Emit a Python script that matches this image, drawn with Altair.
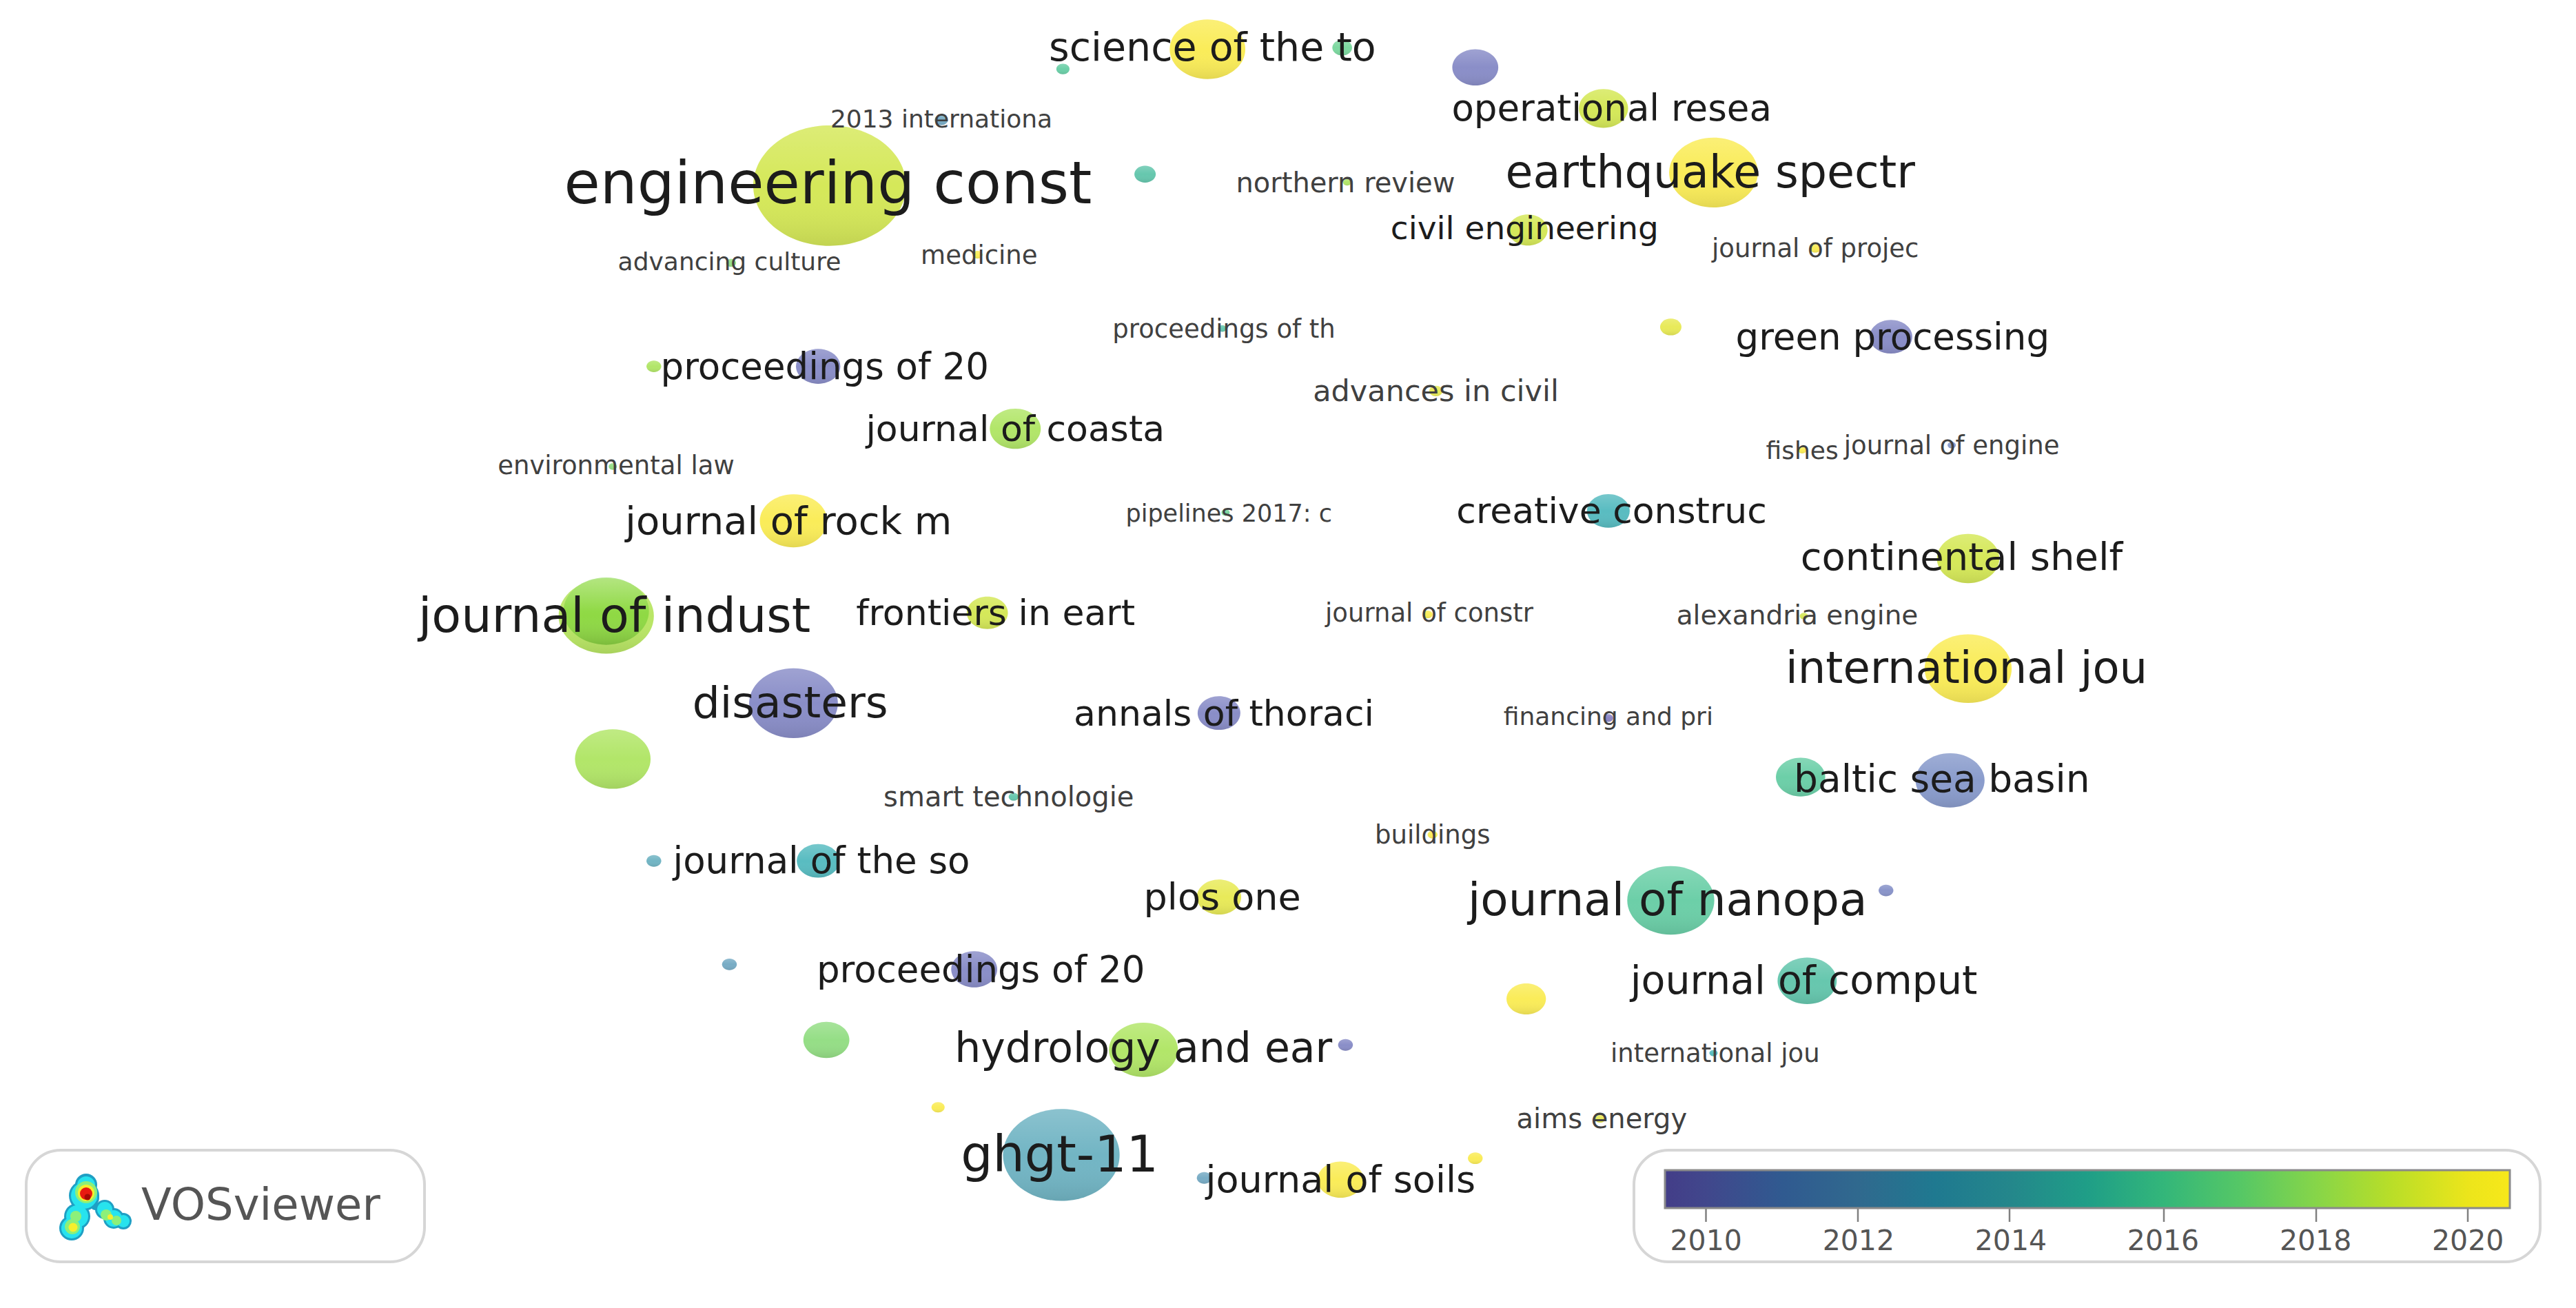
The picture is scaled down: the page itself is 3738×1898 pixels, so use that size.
import altair as alt
import pandas as pd

K = 3738 / 1568

# ---- map items: label, x, y, bubble width, average publication year, label font size
names = ["science of the to", "", "", "", "operational resea", "2013 internationa", "engineering const", "", "northern review",
         "earthquake spectr", "civil engineering", "journal of projec", "advancing culture", "medicine", "",
         "proceedings of th", "green processing", "proceedings of 20", "", "advances in civil", "journal of coasta",
         "fishes", "journal of engine", "environmental law", "journal of rock m", "pipelines 2017: c", "creative construc",
         "continental shelf", "journal of indust", "", "frontiers in eart", "journal of constr", "alexandria engine",
         "international jou", "disasters", "annals of thoraci", "financing and pri", "", "", "baltic sea basin",
         "smart technologie", "buildings", "journal of the so", "", "plos one", "journal of nanopa", "", "",
         "proceedings of 20", "journal of comput", "", "", "hydrology and ear", "", "international jou", "",
         "aims energy", "ghgt-11", "", "", "journal of soils"]
bx = [735, 817, 647, 898, 976, 573, 505, 697, 820, 1043, 930, 1105, 445, 595, 1017, 744, 1151, 498, 398, 874, 618,
      1097, 1188, 373, 483, 746, 979, 1198, 369, 369, 601, 869, 1098, 1198, 483, 742, 979, 373, 1096, 1187, 617, 872, 498,
      398, 742, 1017, 1148, 444, 593, 1100, 929, 503, 696, 819, 1043, 571, 974, 646, 898, 733, 816]
by = [30, 29, 42, 41, 66, 73, 113, 106, 111, 105, 140, 151, 160, 155, 199, 200, 205, 223, 223, 238, 261, 274, 271,
      284, 317, 312, 311, 340, 375, 372, 373, 374, 375, 407, 428, 434, 437, 462, 473, 475, 485, 508, 524, 524, 546, 548,
      542, 587, 590, 597, 608, 633, 639, 636, 641, 674, 681, 703, 705, 717, 718]
bw = [46, 12, 8, 28, 30, 8, 93, 13, 5, 54, 24, 7, 6, 6, 13, 5, 26, 27, 9, 8, 31, 5, 5, 5, 41, 5, 26, 38, 58, 52, 25, 6,
      5, 53, 54, 26, 6, 46, 30, 42, 6, 6, 26, 9, 27, 53, 9, 9, 28, 36, 24, 28, 42, 9, 5, 8, 6, 71, 9, 9, 28]
years = [2020, 2016, 2015.5, 2010.5, 2019, 2013, 2019, 2015, 2018, 2020, 2019, 2020, 2017, 2020, 2019.5, 2015,
         2010.5, 2010.5, 2018, 2019.5, 2018, 2020, 2011.5, 2017, 2020, 2016, 2014, 2019, 2018.2, 2017.6, 2019, 2020, 2019,
         2020, 2010.5, 2010.5, 2010, 2018, 2015.5, 2011.5, 2015, 2020, 2014, 2013.5, 2019.5, 2015.5, 2011, 2013,
         2010.5, 2015, 2020, 2017, 2018, 2010.5, 2014, 2020, 2019.5, 2013.5, 2020, 2013, 2020]
lx = [738, 0, 0, 0, 981, 573, 504, 0, 819, 1041, 928, 1105, 444, 596, 0, 745, 1152, 502, 0, 874, 618, 1097, 1188,
      375, 480, 748, 981, 1194, 374, 0, 606, 870, 1094, 1197, 481, 745, 979, 0, 0, 1182, 614, 872, 500, 0, 744, 1015, 0,
      0, 597, 1098, 0, 0, 696, 0, 1044, 0, 975, 645, 0, 0, 816]
ly = [29, 0, 0, 0, 66, 72, 112, 0, 111, 105, 139, 151, 159, 155, 0, 200, 205, 223, 0, 238, 261, 274, 271, 283, 317,
      312, 311, 339, 375, 0, 373, 373, 374, 407, 428, 434, 436, 0, 0, 474, 485, 508, 524, 0, 546, 548, 0, 0, 590, 597,
      0, 0, 638, 0, 641, 0, 681, 703, 0, 0, 718]
fs = [57, 0, 0, 0, 53, 36, 85, 0, 40, 65, 47, 37, 36, 37, 0, 37, 53, 53, 0, 43, 52, 36, 37, 37, 56, 35, 52, 56, 70,
      0, 52, 37, 39, 64, 63, 52, 36, 0, 0, 55, 40, 37, 53, 0, 54, 66, 0, 0, 53, 57, 0, 0, 60, 0, 37, 0, 40, 73, 0, 0, 54]

# ---- colour key and the (paler, more saturated) map palette
key_years = [2009.46, 2010, 2012, 2014, 2015, 2016, 2017, 2018, 2019, 2020, 2020.55]
key_colors = ["#433d88", "#41478c", "#30698e", "#24878b", "#1f9e87", "#33b67a", "#55c766", "#86d549", "#b9de28",
              "#ece51b", "#f7e81a"]
map_years = [2010, 2011.5, 2013, 2013.5, 2015, 2016, 2017, 2018, 2019, 2020]
map_colors = ["#5045a5", "#4b67b1", "#2f7fa6", "#268ea5", "#14a983", "#37c36d", "#5ccc45", "#88d818", "#bfdc00", "#f8e200"]
tick_years = [2010, 2012, 2014, 2016, 2018, 2020]
tick_x = [2475.5, 2696, 2916, 3140, 3361, 3581]

# ---- frames
frames_x = [38, 2371]
frames_x2 = [616, 3686]
frames_y = [1669, 1669]
frames_y2 = [1831, 1831]

# ---- logo blobs: x, y, diameter per colour
logo_layers = [
    ("#1f9fc4", [125, 122, 131, 112, 104, 152, 165, 179, 138], [1719, 1735, 1738, 1765, 1782, 1755, 1768, 1772, 1750],
     [32, 44, 26, 38, 36, 28, 30, 24, 12]),
    ("#27e3ee", [125, 122, 131, 112, 104, 152, 165, 179], [1720, 1735, 1738, 1765, 1782, 1755, 1768, 1772],
     [26, 38, 20, 32, 30, 22, 24, 18]),
    ("#8cf07a", [125, 110, 105, 154, 169], [1730, 1765, 1780, 1763, 1771], [32, 16, 22, 16, 14]),
    ("#f6ef2c", [125, 106, 160], [1731, 1781, 1766], [24, 13, 8]),
    ("#e81a10", [125], [1732], [18]),
    ("#a80a05", [127], [1737], [9]),
]

items = pd.DataFrame({"name": names, "bx": [v * K for v in bx], "by": [v * K for v in by], "bw": bw, "year": years,
                      "lx": [v * K for v in lx], "ly": [v * K for v in ly], "fs": fs})
labels = items[items["name"] != ""]

xs = alt.Scale(domain=[8, 3730], nice=False, zero=False)
ys = alt.Scale(domain=[1890, 8], nice=False, zero=False)
ELLIPSE = ("M-1.27,0 C-1.27,-0.5523 -0.7014,-1 0,-1 C0.7014,-1 1.27,-0.5523 1.27,0 "
           "C1.27,0.5523 0.7014,1 0,1 C-0.7014,1 -1.27,0.5523 -1.27,0 Z")
size_scale = alt.Scale(type="pow", exponent=2, domain=[0, 93], range=[0, (93 * K / 1.27) ** 2])

frames = alt.Chart(pd.DataFrame({"x": frames_x, "x2": frames_x2, "y": frames_y, "y2": frames_y2})).mark_rect(
    cornerRadius=50, fill="white", stroke="#d6d6d6", strokeWidth=4
).encode(x=alt.X("x:Q", scale=xs, axis=None), x2="x2:Q", y=alt.Y("y:Q", scale=ys, axis=None), y2="y2:Q")

bubbles = alt.Chart(items).mark_point(shape=ELLIPSE, filled=True, opacity=0.65).encode(
    x=alt.X("bx:Q", scale=xs, axis=None),
    y=alt.Y("by:Q", scale=ys, axis=None),
    size=alt.Size("bw:Q", scale=size_scale, legend=None),
    color=alt.Color("year:Q", scale=alt.Scale(domain=map_years, range=map_colors, clamp=True), legend=None),
)
shade = alt.Chart(items).mark_point(
    shape=ELLIPSE, filled=True, opacity=1,
    fill=alt.Gradient(gradient="linear", x1=0, y1=0, x2=0, y2=1,
                      stops=[alt.GradientStop(offset=0, color="rgba(255,255,255,0.18)"),
                             alt.GradientStop(offset=0.5, color="rgba(255,255,255,0)"),
                             alt.GradientStop(offset=1, color="rgba(0,0,0,0.09)")]),
).encode(x=alt.X("bx:Q", scale=xs, axis=None), y=alt.Y("by:Q", scale=ys, axis=None),
         size=alt.Size("bw:Q", scale=size_scale, legend=None))

key = alt.Chart(pd.DataFrame({"year": tick_years})).mark_point(opacity=0, size=0).encode(
    color=alt.Color("year:Q", scale=alt.Scale(domain=key_years, range=key_colors),
                    legend=alt.Legend(orient="none", legendX=2408, legendY=1690, direction="horizontal",
                                      gradientLength=1226, gradientThickness=55, title=None, values=tick_years,
                                      format="d", labelFontSize=41, labelFont="DejaVu Sans", labelColor="#555555",
                                      labelOffset=29, labelOverlap=False, labelAlign="center", padding=0,
                                      gradientOpacity=1, gradientStrokeColor="#8a8a8a", gradientStrokeWidth=3)),
)

ticks = alt.Chart(pd.DataFrame({"x": tick_x, "y": [1733] * 6, "y2": [1773] * 6})).mark_rule(
    color="#808080", strokeWidth=2.5
).encode(x=alt.X("x:Q", scale=xs, axis=None), y=alt.Y("y:Q", scale=ys, axis=None), y2="y2:Q")

logo = []
for col, lxs, lys, ds in logo_layers:
    logo.append(alt.Chart(pd.DataFrame({"x": lxs, "y": lys, "d": [d * d for d in ds]})).mark_circle(
        color=col, opacity=1).encode(x=alt.X("x:Q", scale=xs, axis=None), y=alt.Y("y:Q", scale=ys, axis=None),
                                     size=alt.Size("d:Q", scale=None)))

logo_text = alt.Chart(pd.DataFrame({"x": [205], "y": [1770], "t": ["VOSviewer"]})).mark_text(
    align="left", baseline="alphabetic", font="DejaVu Sans", fontSize=64, color="#555555"
).encode(x=alt.X("x:Q", scale=xs, axis=None), y=alt.Y("y:Q", scale=ys, axis=None), text="t:N")

texts = alt.Chart(labels).mark_text(align="center", baseline="middle", font="DejaVu Sans", dy=2).encode(
    x=alt.X("lx:Q", scale=xs, axis=None), y=alt.Y("ly:Q", scale=ys, axis=None),
    size=alt.Size("fs:Q", scale=None), text="name:N",
    color=alt.condition("datum.fs < 45", alt.value("#404040"), alt.value("#1c1c1c")))

chart = alt.layer(frames, key, bubbles, shade, ticks, *logo, logo_text, texts).resolve_scale(
    size="independent", color="independent"
).properties(width=3722, height=1882, padding=0, autosize=alt.AutoSizeParams(type="none"),
             background="white").configure_view(stroke=None)

chart.save("out.html", embed_options={"renderer": "svg", "actions": False})
